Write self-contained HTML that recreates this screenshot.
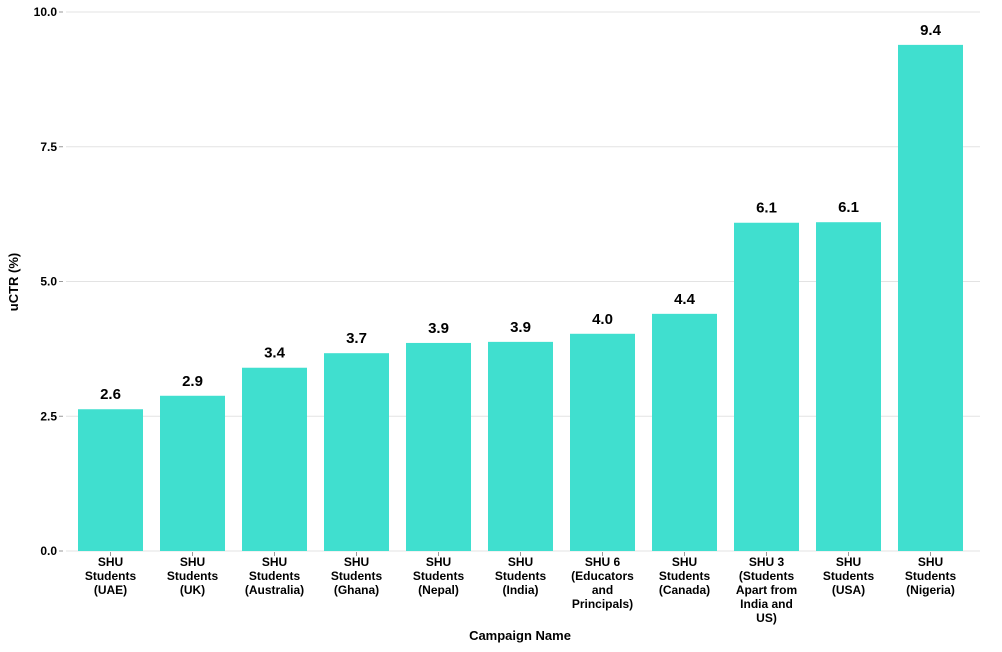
<!DOCTYPE html>
<html><head><meta charset="utf-8"><style>
body{margin:0;background:#fff;font-family:"Liberation Sans",sans-serif}
svg text{font-family:"Liberation Sans",sans-serif;font-weight:bold;fill:#000}
</style></head><body>
<svg id="chart" width="1002" height="647"></svg>
<script>
const categories=[["SHU","Students","(UAE)"],["SHU","Students","(UK)"],["SHU","Students","(Australia)"],["SHU","Students","(Ghana)"],["SHU","Students","(Nepal)"],["SHU","Students","(India)"],["SHU 6","(Educators","and","Principals)"],["SHU","Students","(Canada)"],["SHU 3","(Students","Apart from","India and","US)"],["SHU","Students","(USA)"],["SHU","Students","(Nigeria)"]];
const values=[2.63,2.88,3.40,3.67,3.86,3.88,4.03,4.40,6.09,6.10,9.39];
const valueLabels=["2.6","2.9","3.4","3.7","3.9","3.9","4.0","4.4","6.1","6.1","9.4"];
const yTicks=[0,2.5,5,7.5,10];
const yTickLabels=["0.0","2.5","5.0","7.5","10.0"];
const svg=document.getElementById('chart');const NS='http://www.w3.org/2000/svg';
const y0=551,y1=12,left=66,right=980;
const y=v=>y0-(v/10)*(y0-y1);
const step=82,bw=65,firstX=78;
const x=i=>firstX+i*step;
function mk(t,a,txt){const e=document.createElementNS(NS,t);for(const k in a)e.setAttribute(k,a[k]);if(txt!=null)e.textContent=txt;svg.appendChild(e);return e;}
yTicks.forEach((t,i)=>{
 const g=mk('line',{x1:left,x2:right,y1:y(t),y2:y(t),stroke:'#e3e3e3','stroke-width':1});
 
 
 const tk=mk('line',{x1:59,x2:63,y1:y(t),y2:y(t),stroke:'#999'});
 
 
 const l=mk('text',{x:57,y:y(t)+4,'text-anchor':'end','font-size':12},yTickLabels[i]);
 
 
});
values.forEach((v,i)=>{
 const r=mk('rect',{x:x(i),y:y(v),width:bw,height:y0-y(v),fill:'#40dfcf'});
 
 
 const t=mk('text',{x:x(i)+bw/2,y:y(v)-10,'text-anchor':'middle','font-size':15},valueLabels[i]);
 
 
 const tk=mk('line',{x1:x(i)+bw/2,x2:x(i)+bw/2,y1:552,y2:556,stroke:'#999'});
 
 
 categories[i].forEach((ln,j)=>{
  const c=mk('text',{x:x(i)+bw/2,y:566+j*14,'text-anchor':'middle','font-size':12},ln);
  
  
 });
});
const xt=mk('text',{x:520,y:640,'text-anchor':'middle','font-size':13},'Campaign Name');


const yt=mk('text',{x:18,y:282,'text-anchor':'middle','font-size':13,transform:'rotate(-90 18 282)'},'uCTR (%)');


</script>
</body></html>
